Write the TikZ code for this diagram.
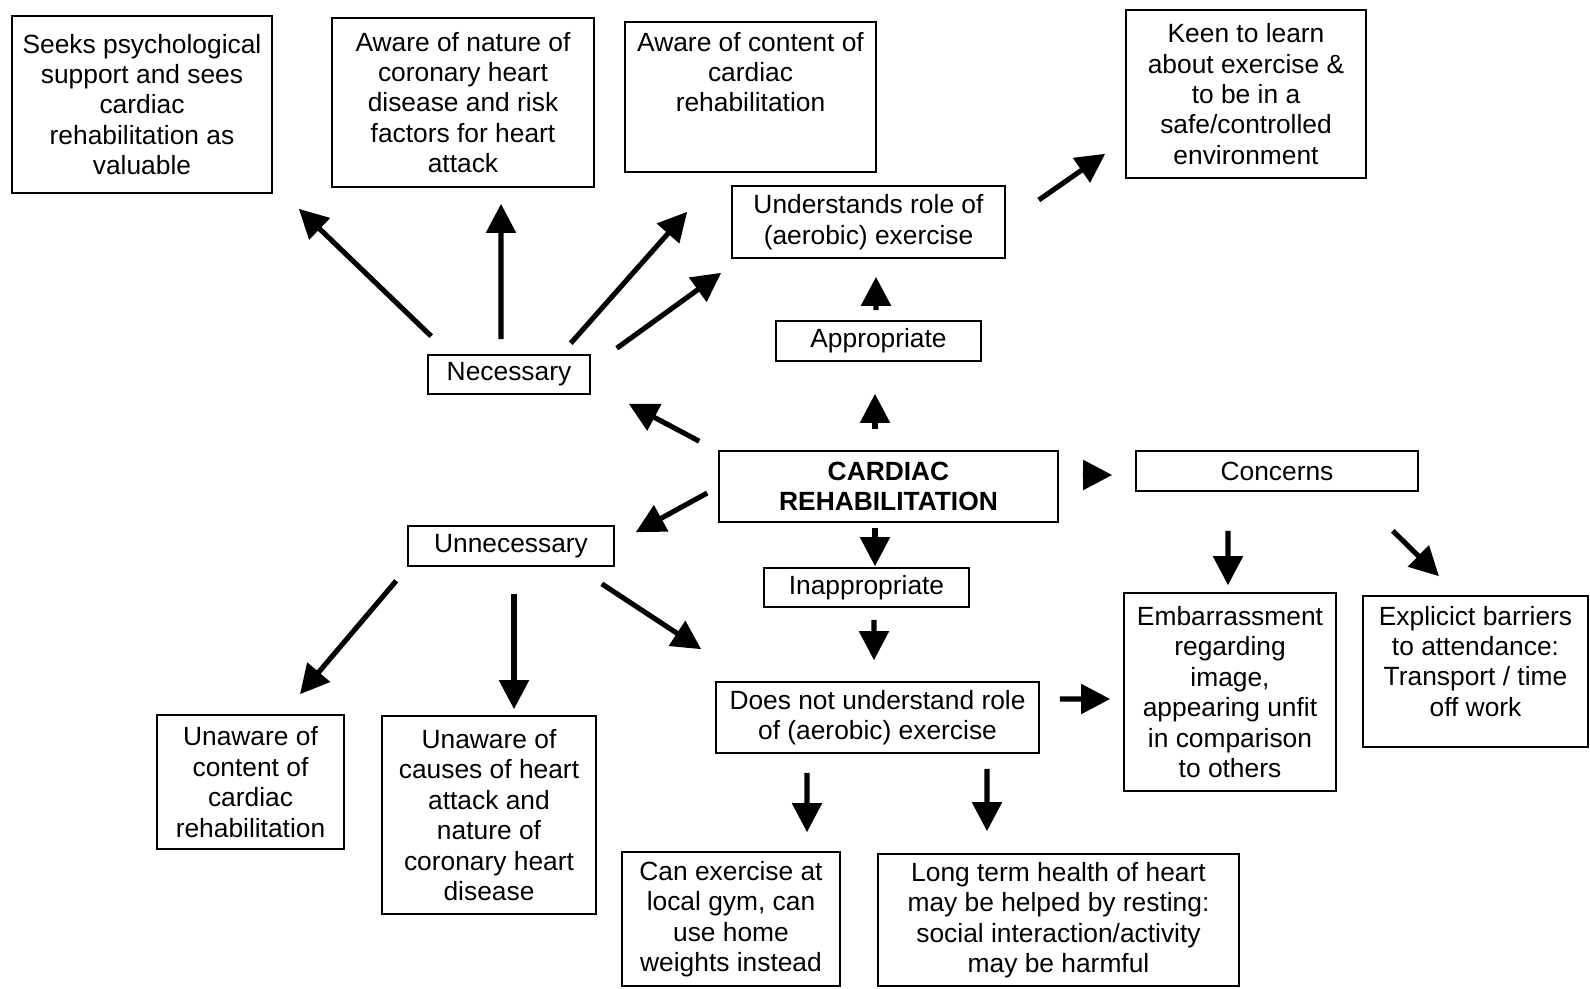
\documentclass[tikz,border=0pt]{standalone}
\usepackage{fontspec}
\setmainfont{Liberation Sans}
\usetikzlibrary{arrows.meta}
\tikzset{%
  box/.style = {rectangle,draw,solid,line width=0.9pt,align=center,
        inner sep=2pt,font=\fontsize{15}{17.3}\selectfont},
  bigarrow/.style = {-{Triangle[length=0.58cm,width=0.58cm]},
        line width=2.9pt}
}
\begin{document}
\begin{tikzpicture}
        \useasboundingbox (0,0) rectangle (31.8,-19.76);

        % top row
        \node[box, minimum width=5.2cm, minimum height=3.54cm] (seeks) at (2.84,-2.09)
            {Seeks psychological\\support and sees\\cardiac\\rehabilitation as\\valuable};
        \node[box, minimum width=5.24cm, minimum height=3.38cm] (nature) at (9.26,-2.05)
            {Aware of nature of\\coronary heart\\disease and risk\\factors for heart\\attack};
        \node[box, inner xsep=0.07cm, inner ysep=0.2cm] (content) at (15.01,-1.94)
            {\parbox[c][2.6cm][t]{4.88cm}{\centering Aware of content of\\cardiac\\rehabilitation}};
        \node[box, minimum width=4.8cm, minimum height=3.36cm] (keen) at (24.92,-1.88)
            {Keen to learn\\about exercise \&\\to be in a\\safe/controlled\\environment};
        \node[box, minimum width=5.46cm, minimum height=1.44cm] (underst) at (17.37,-4.44)
            {Understands role of\\(aerobic) exercise};
        \node[box, minimum width=4.1cm, minimum height=0.8cm] (approp) at (17.57,-6.82) {Appropriate};
        \node[box, minimum width=3.24cm, minimum height=0.78cm] (nec) at (10.18,-7.49) {Necessary};

        % middle row
        \node[box, minimum width=6.78cm, minimum height=1.42cm,
            font=\fontsize{15}{17.3}\selectfont\bfseries] (card) at (17.77,-9.73)
            {CARDIAC\\REHABILITATION};
        \node[box, minimum width=5.64cm, minimum height=0.8cm] (concerns) at (25.54,-9.42) {Concerns};
        \node[box, minimum width=4.12cm, minimum height=0.8cm] (unnec) at (10.22,-10.92) {Unnecessary};
        \node[box, minimum width=4.1cm, minimum height=0.78cm] (inapp) at (17.33,-11.75) {Inappropriate};
        \node[box, minimum width=6.46cm, minimum height=1.42cm] (doesnot) at (17.55,-14.35)
            {Does not understand role\\of (aerobic) exercise};
        \node[box, minimum width=4.24cm, minimum height=3.96cm] (embarr) at (24.6,-13.84)
            {Embarrassment\\regarding\\image,\\appearing unfit\\in comparison\\to others};
        \node[box, inner xsep=0.07cm, inner ysep=0.2cm] (explicit) at (29.51,-13.43)
            {\parbox[c][2.62cm][t]{4.36cm}{\centering Explicict barriers\\to attendance:\\Transport / time\\off work}};

        % bottom row
        \node[box, minimum width=3.74cm, minimum height=2.68cm] (uncontent) at (5.01,-15.64)
            {Unaware of\\content of\\cardiac\\rehabilitation};
        \node[box, minimum width=4.28cm, minimum height=3.96cm] (uncauses) at (9.78,-16.3)
            {Unaware of\\causes of heart\\attack and\\nature of\\coronary heart\\disease};
        \node[box, minimum width=4.36cm, minimum height=2.68cm] (canex) at (14.62,-18.38)
            {Can exercise at\\local gym, can\\use home\\weights instead};
        \node[box, minimum width=7.22cm, minimum height=2.64cm] (longterm) at (21.17,-18.4)
            {Long term health of heart\\may be helped by resting:\\social interaction/activity\\may be harmful};

        \draw[bigarrow] ([shift={(0.08,0.36)}]nec.north west) -- ([shift={(0.52,-0.30)}]seeks.south east);
        \draw[bigarrow] ([shift={(-0.16,0.30)}]nec.north) -- ([shift={(0.76,-0.32)}]nature.south);
        \draw[bigarrow] ([shift={(-0.40,0.22)}]nec.north east) -- ([shift={(1.26,-0.78)}]content.south west);
        \draw[bigarrow] ([shift={(0.52,0.12)}]nec.north east) -- ([shift={(-0.20,-0.28)}]underst.south west);
        \draw[bigarrow] ([shift={(-0.38,0.18)}]card.north west) -- ([shift={(0.76,-0.18)}]nec.south east);
        \draw[bigarrow] ([shift={(-0.27,0.42)}]card.north) -- ([shift={(-0.07,-0.64)}]approp.south);
        \draw[bigarrow] ([shift={(-0.05,0.20)}]approp.north) -- ([shift={(0.15,-0.36)}]underst.south);
        \draw[bigarrow] ([shift={(0.66,0.44)}]underst.east) -- ([shift={(-0.40,0.50)}]keen.south west);
        \draw[bigarrow] ([shift={(0.48,0.23)}]card.east) -- ([shift={(-0.46,-0.08)}]concerns.west);
        \draw[bigarrow] ([shift={(-0.22,-0.13)}]card.west) -- ([shift={(0.42,-0.14)}]unnec.north east);
        \draw[bigarrow] ([shift={(-0.27,-0.10)}]card.south) -- ([shift={(0.17,0.02)}]inapp.north);
        \draw[bigarrow] ([shift={(-0.22,-0.28)}]unnec.south west) -- ([shift={(0.99,0.40)}]uncontent.north);
        \draw[bigarrow] ([shift={(0.06,-0.54)}]unnec.south) -- ([shift={(0.50,0.12)}]uncauses.north);
        \draw[bigarrow] ([shift={(-0.26,-0.34)}]unnec.south east) -- ([shift={(-0.28,0.64)}]doesnot.north west);
        \draw[bigarrow] ([shift={(0.15,-0.24)}]inapp.south) -- ([shift={(-0.07,0.42)}]doesnot.north);
        \draw[bigarrow] ([shift={(0.40,0.37)}]doesnot.east) -- ([shift={(-0.26,-0.14)}]embarr.west);
        \draw[bigarrow] ([shift={(-1.41,-0.38)}]doesnot.south) -- ([shift={(1.52,0.38)}]canex.north);
        \draw[bigarrow] ([shift={(2.19,-0.30)}]doesnot.south) -- ([shift={(-1.43,0.44)}]longterm.north);
        \draw[bigarrow] ([shift={(-0.98,-0.78)}]concerns.south) -- ([shift={(-0.04,0.14)}]embarr.north);
        \draw[bigarrow] ([shift={(-0.52,-0.78)}]concerns.south east) -- ([shift={(-0.73,0.38)}]explicit.north);

    \end{tikzpicture}
\end{document}
